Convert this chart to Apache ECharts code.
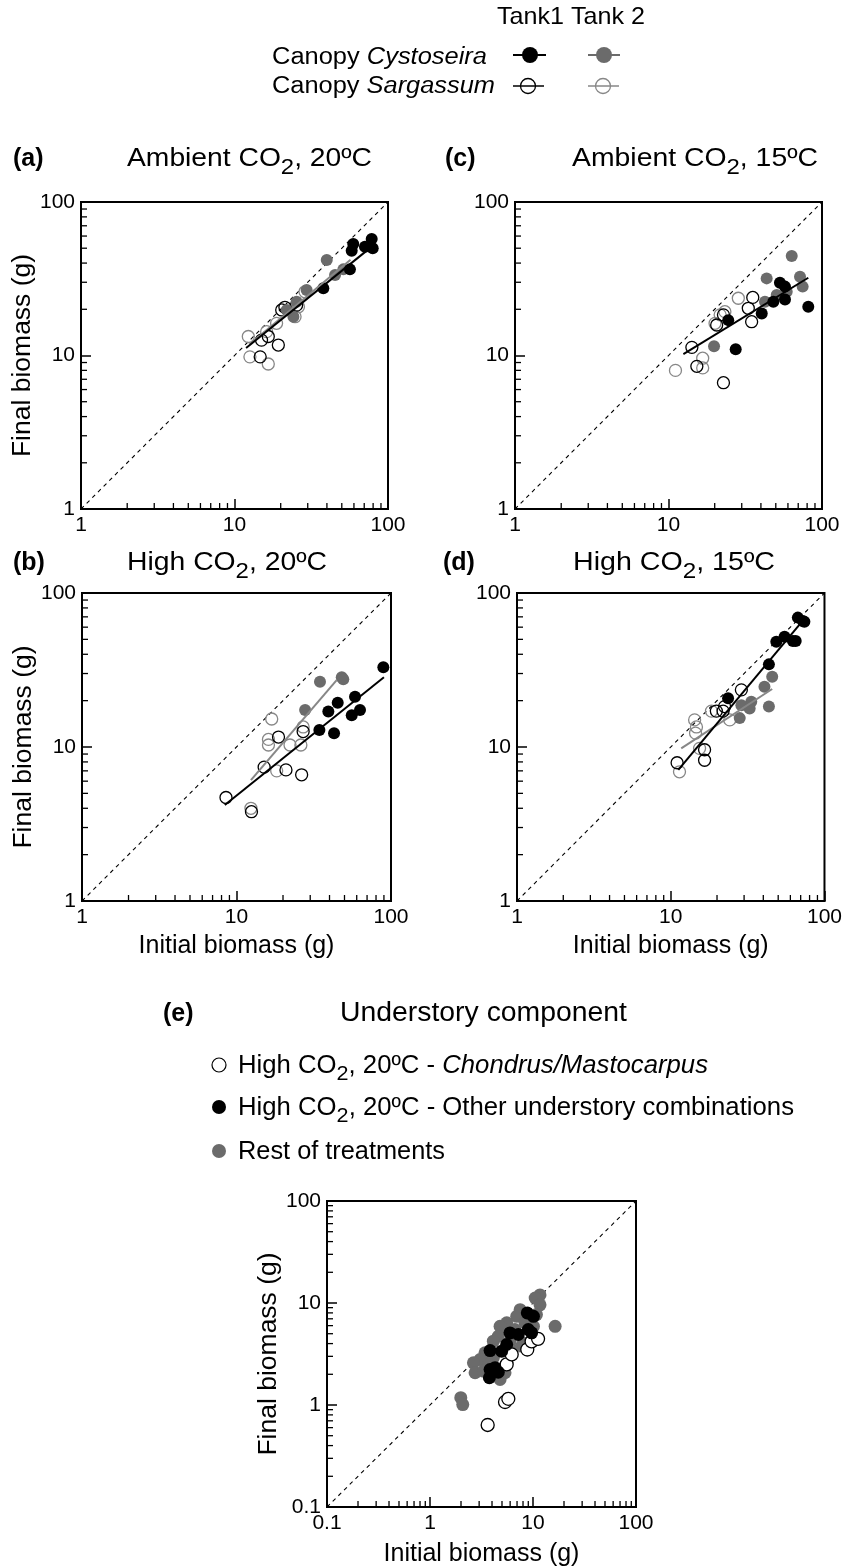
<!DOCTYPE html>
<html><head><meta charset="utf-8">
<script src="https://cdn.jsdelivr.net/npm/echarts@6.0.0/dist/echarts.min.js"></script>
<style>html,body{margin:0;padding:0;background:#fff}#c{width:845px;height:1568px}</style>
</head><body><div id="c"></div>
<script>
// ---------- data (initial g, final g) ----------
// (a) Ambient CO2, 20ºC
const aCysT1 = [[37.9,27.4],[56.5,36.4],[59.4,53.2],[58,48.2],[70.8,51.1],[78.3,57.4],[79.5,49.9]];
const aCysT2 = [[39.9,41.9],[45.2,33.4],[51.2,36.4],[29.5,26.7],[25.4,22.4],[24.2,17.9],[21.9,19.8]];
const aSarT1 = [[14.7,9.8],[15,12.6],[16.6,13.3],[19.3,11.7],[20.3,19.8],[21.3,20.6],[25.4,21.3]];
const aSarT2 = [[12.3,13.3],[12.6,9.8],[16.6,8.8],[18.8,16.2],[16.2,14.3],[24.8,17.9],[26.1,20.8],[28.8,26]];
const aFitT1 = [[11.9,11.2],[78,51]];
const aFitT2 = [[12.5,11.8],[57,42]];
// (c) Ambient CO2, 15ºC
const cCysT1 = [[53.2,29.8],[57.4,28.1],[57.4,23.2],[48.2,22.4],[40.5,18.8],[81.4,20.8],[27.4,11],[24.5,17]];
const cCysT2 = [[63.5,44.5],[43.6,31.8],[71.9,32.6],[74.8,28.1],[50.7,24.8],[58.9,26],[42.5,22.4],[19.8,11.5]];
const cSarT1 = [[35.4,23.9],[33.1,20.3],[34.8,16.6],[14.2,11.3],[15.3,8.5],[22.8,6.65],[20.6,15.8],[22.8,18.4]];
const cSarT2 = [[28.5,23.6],[23.3,19.3],[21.7,18.4],[20.1,16.2],[16.7,9.6],[16.7,8.3],[11.1,8]];
const cFitT1 = [[12.5,10.2],[81.4,32.1]];
// (b) High CO2, 20ºC
const bCysT1 = [[89.2,32.9],[58.5,21.2],[63,17.4],[55.7,16.1],[45.2,19.4],[39.3,17],[42.8,12.3],[34.4,12.9]];
const bCysT2 = [[34.7,26.5],[48,28.4],[49.1,27.5],[27.8,17.4]];
const bSarT1 = [[18.7,11.6],[27,12.6],[15.1,7.4],[20.9,7.1],[26.4,6.6],[8.55,4.7],[12.5,3.8]];
const bSarT2 = [[16.9,15.2],[16.1,11.2],[16.1,10.3],[22.2,10.3],[26.1,10.3],[18.2,7],[27,13.5],[12.4,4]];
const bFitT1 = [[8.4,4.2],[90,28.4]];
const bFitT2 = [[12.4,6.1],[44.5,27.2]];
// (d) High CO2, 15ºC
const dCysT1 = [[67.1,69.2],[72.3,65.8],[74,65],[48.6,48.3],[55,52],[62.3,48.8],[65,48.8],[43.5,34.4],[23.6,20.7]];
const dCysT2 = [[45.7,28.6],[40.7,24.6],[43.5,18.3],[33.4,19.7],[28.8,18.7],[32.6,17.8],[28.1,15.4]];
const dSarT1 = [[11,7.9],[16.6,9.6],[16.6,8.2],[28.8,23.5],[22.4,18.3],[19.8,17.1],[21.9,17.1]];
const dSarT2 = [[14.3,15],[14.7,13.5],[14.5,12.3],[11.4,6.9],[18.4,17.1],[15.4,9.8],[24.2,15]];
const dFitT1 = [[11.2,7.1],[76,70.2]];
const dFitT2 = [[11.7,9.8],[45.7,23.8]];
// (e) Understory component
const eChondrus = [[3.63,0.637],[5.35,1.07],[5.76,1.15],[5.55,2.5],[6.21,3.13],[8.8,3.5],[9.7,4.2],[11.2,4.45]];
const eOther = [[3.83,3.42],[3.83,2.23],[3.77,1.85],[4.28,2.32],[4.6,2.1],[4.96,3.37],[5.55,3.92],[5.98,5.09],[7.2,4.91],[8.8,8],[10.1,7.4],[9.0,5.5],[9.7,5.1]];
const eRest = [[1.99,1.18],[2.08,1.01],[16.4,5.9],[11.7,12],[10.5,11.2],[11.7,9.6],[7.5,8.6],[6.95,7.4],[5.56,6.4],[4.79,5.9],[4.6,4.72],[4.12,4.22],[3.42,3.25],[3.06,2.79],[2.64,2.59],[2.74,2.07],[3.3,2.15],[4.12,2.9],[4.79,1.78],[5.35,2.07],[8.07,4.06],[5.98,4.22],[8.36,6.4],[10.8,7.7],[10.1,5.9],[6.68,5.5],[3.72,2.5],[7.76,3.78],[6.21,3.5]];
// axes / ticks / texts
const axisMinTop = 1, axisMinE = 0.1, axisMax = 100;
const minorTicksTop = [2,3,4,5,6,7,8,9,20,30,40,50,60,70,80,90];
const minorTicksE = [0.2,0.3,0.4,0.5,0.6,0.7,0.8,0.9,2,3,4,5,6,7,8,9,20,30,40,50,60,70,80,90];
const panelLetters = ['(a)','(c)','(b)','(d)','(e)'];
const panelTitleParts = [['Ambient CO','2',', 20ºC'],['Ambient CO','2',', 15ºC'],['High CO','2',', 20ºC'],['High CO','2',', 15ºC']];
const axisNameX = 'Initial biomass (g)', axisNameY = 'Final biomass (g)';

// ---------- styles ----------
const FONT = '"Liberation Sans", Arial, Helvetica, sans-serif';
const BLACK = '#000', GRAY = '#6b6b6b', LGRAY = '#878787';
const styles = {
  fillBlack: {color: BLACK, borderColor: BLACK, borderWidth: 0},
  fillGray: {color: GRAY, borderColor: GRAY, borderWidth: 0},
  openBlack: {color: 'rgba(255,255,255,0)', borderColor: BLACK, borderWidth: 1.3},
  openGray: {color: 'rgba(255,255,255,0)', borderColor: LGRAY, borderWidth: 1.3},
  openWhite: {color: '#fff', borderColor: BLACK, borderWidth: 1.3}
};

const grids = [
  {left: 81, top: 202, width: 307, height: 307},
  {left: 515, top: 202, width: 307, height: 307},
  {left: 82, top: 593, width: 309, height: 308},
  {left: 517, top: 593, width: 308, height: 308},
  {left: 327, top: 1201, width: 309, height: 307}
].map(g => Object.assign({show: true, borderColor: BLACK, borderWidth: 2, backgroundColor: 'rgba(0,0,0,0)'}, g));

function mkAxis(gi, min, name, gap, nameSize) {
  const a = {
    type: 'log', logBase: 10, min: min, max: axisMax, gridIndex: gi,
    axisLine: {show: true, lineStyle: {color: BLACK, width: 2}},
    axisTick: {show: true, inside: true, length: 10, lineStyle: {color: BLACK, width: 1.5}},
    minorTick: {show: false},
    axisLabel: {fontSize: 21, color: BLACK, fontFamily: FONT, margin: 6},
    splitLine: {show: false}
  };
  if (name) {
    a.name = name; a.nameLocation = 'middle'; a.nameGap = gap;
    a.nameTextStyle = {fontSize: nameSize, color: BLACK, fontFamily: FONT};
  }
  return a;
}
const xAxes = [
  mkAxis(0, axisMinTop), mkAxis(1, axisMinTop),
  mkAxis(2, axisMinTop, axisNameX, 33, 25), mkAxis(3, axisMinTop, axisNameX, 33, 25),
  mkAxis(4, axisMinE, axisNameX, 35, 25)
];
const yAxes = [
  mkAxis(0, axisMinTop, axisNameY, 43, 26.5), mkAxis(1, axisMinTop),
  mkAxis(2, axisMinTop, axisNameY, 43, 26.5), mkAxis(3, axisMinTop),
  mkAxis(4, axisMinE, axisNameY, 42, 26.5)
];

const series = [];
function sc(gi, data, kind, size) {
  series.push({type: 'scatter', xAxisIndex: gi, yAxisIndex: gi, data: data, symbol: 'circle',
    symbolSize: size || 12, itemStyle: Object.assign({opacity: 1}, styles[kind]), z: 3, silent: true});
}
function fit(gi, data, color) {
  series.push({type: 'line', xAxisIndex: gi, yAxisIndex: gi, data: data, symbol: 'none',
    lineStyle: {color: color, width: 2}, z: 4, silent: true});
}
function diag(gi, lo) {
  series.push({type: 'line', xAxisIndex: gi, yAxisIndex: gi, data: [[lo, lo], [axisMax, axisMax]], symbol: 'none',
    lineStyle: {color: BLACK, width: 1.1, type: [4, 4]}, z: 2, silent: true});
}
function minorTicks(gi, vals, lo) {
  const mk = (dir) => ({
    type: 'custom', xAxisIndex: gi, yAxisIndex: gi, silent: true, z: 5,
    data: vals.map(v => dir === 'x' ? [v, lo] : [lo, v]),
    renderItem: (params, api) => {
      const p = api.coord([api.value(0), api.value(1)]);
      return {type: 'line',
        shape: dir === 'x' ? {x1: p[0], y1: p[1], x2: p[0], y2: p[1] - 6} : {x1: p[0], y1: p[1], x2: p[0] + 6, y2: p[1]},
        style: {stroke: BLACK, lineWidth: 1.3}};
    }
  });
  series.push(mk('x'), mk('y'));
}

const panels = [
  [aCysT1, aCysT2, aSarT1, aSarT2, [[aFitT2, LGRAY], [aFitT1, BLACK]]],
  [cCysT1, cCysT2, cSarT1, cSarT2, [[cFitT1, BLACK]]],
  [bCysT1, bCysT2, bSarT1, bSarT2, [[bFitT2, LGRAY], [bFitT1, BLACK]]],
  [dCysT1, dCysT2, dSarT1, dSarT2, [[dFitT2, LGRAY], [dFitT1, BLACK]]]
];
panels.forEach((p, gi) => {
  diag(gi, axisMinTop);
  minorTicks(gi, minorTicksTop, axisMinTop);
  sc(gi, p[3], 'openGray');
  sc(gi, p[2], 'openBlack');
  sc(gi, p[1], 'fillGray');
  sc(gi, p[0], 'fillBlack');
  p[4].forEach(f => fit(gi, f[0], f[1]));
});
diag(4, axisMinE);
minorTicks(4, minorTicksE, axisMinE);
sc(4, eRest, 'fillGray', 13);
sc(4, eChondrus, 'openWhite', 13);
sc(4, eOther, 'fillBlack', 13);

// ---------- text lines (graphic) with sub-scripts, widths measured ----------
const mctx = document.createElement('canvas').getContext('2d');
function tw(t, size, italic, bold) {
  mctx.font = (italic ? 'italic ' : 'normal ') + (bold ? 'bold ' : 'normal ') + size + 'px "Liberation Sans"';
  return mctx.measureText(t).width;
}
function textLine(x0, baseline, parts, targetW) {
  const widths = parts.map(p => tw(p.t, p.size, p.italic, p.bold));
  const W = widths.reduce((a, b) => a + b, 0);
  const k = targetW ? targetW / W : 1;
  let x = x0;
  return parts.map((p, i) => {
    const el = {type: 'text', x: x, y: baseline + (p.dy || 0) - 0.32 * p.size, scaleX: k, silent: true,
      style: {text: p.t, fontSize: p.size, fontFamily: FONT, fontStyle: p.italic ? 'italic' : 'normal',
        fontWeight: p.bold ? 'bold' : 'normal', fill: BLACK, align: 'left', verticalAlign: 'middle'}};
    x += widths[i] * k;
    return el;
  });
}
function titleParts(tp, main, sub, dy) {
  return [{t: tp[0], size: main}, {t: tp[1], size: sub, dy: dy}, {t: tp[2], size: main}];
}

let graphic = [];
// panel letters & titles: [letterX, titleX, titleRight, baseline]
const titleLayout = [[13, 127, 372, 167], [445, 572, 818, 167], [13, 127, 327, 571], [443, 573, 775, 571]];
titleLayout.forEach((L, i) => {
  graphic = graphic.concat(textLine(L[0], L[3], [{t: panelLetters[i], size: 25, bold: true}]));
  graphic = graphic.concat(textLine(L[1], L[3], titleParts(panelTitleParts[i], 26, 22, 8), L[2] - L[1]));
});
graphic = graphic.concat(textLine(163, 1022, [{t: panelLetters[4], size: 25, bold: true}]));
graphic = graphic.concat(textLine(340, 1022, [{t: 'Understory component', size: 27}], 287));

// top legend
graphic = graphic.concat(textLine(497, 25, [{t: 'Tank1 Tank 2', size: 24}], 148));
graphic = graphic.concat(textLine(272, 65, [{t: 'Canopy ', size: 23}, {t: 'Cystoseira', size: 23, italic: true}], 215));
graphic = graphic.concat(textLine(272, 94, [{t: 'Canopy ', size: 23}, {t: 'Sargassum', size: 23, italic: true}], 223));
graphic.push(
  {type: 'line', shape: {x1: 513, y1: 55, x2: 546, y2: 55}, style: {stroke: BLACK, lineWidth: 2}},
  {type: 'circle', shape: {cx: 530, cy: 55, r: 8}, style: {fill: BLACK}},
  {type: 'line', shape: {x1: 588, y1: 55, x2: 620, y2: 55}, style: {stroke: GRAY, lineWidth: 2}},
  {type: 'circle', shape: {cx: 604, cy: 55, r: 8}, style: {fill: GRAY}},
  {type: 'line', shape: {x1: 513, y1: 86, x2: 544, y2: 86}, style: {stroke: BLACK, lineWidth: 1.5}},
  {type: 'circle', shape: {cx: 528, cy: 86, r: 7.5}, style: {fill: 'none', stroke: BLACK, lineWidth: 1.3}},
  {type: 'line', shape: {x1: 588, y1: 86, x2: 619, y2: 86}, style: {stroke: LGRAY, lineWidth: 1.5}},
  {type: 'circle', shape: {cx: 603, cy: 86, r: 7.5}, style: {fill: 'none', stroke: LGRAY, lineWidth: 1.3}}
);

// (e) legend
graphic.push(
  {type: 'circle', shape: {cx: 219, cy: 1065, r: 7}, style: {fill: '#fff', stroke: BLACK, lineWidth: 1.2}},
  {type: 'circle', shape: {cx: 219, cy: 1107, r: 7}, style: {fill: BLACK}},
  {type: 'circle', shape: {cx: 219, cy: 1151, r: 7}, style: {fill: GRAY}}
);
graphic = graphic.concat(textLine(238, 1074, [{t: 'High CO', size: 25}, {t: '2', size: 21, dy: 7}, {t: ', 20ºC - ', size: 25}, {t: 'Chondrus/Mastocarpus', size: 25, italic: true}], 470));
graphic = graphic.concat(textLine(238, 1116, [{t: 'High CO', size: 25}, {t: '2', size: 21, dy: 7}, {t: ', 20ºC - Other understory combinations', size: 25}], 556));
graphic = graphic.concat(textLine(238, 1160, [{t: 'Rest of treatments', size: 25}], 207));

const chart = echarts.init(document.getElementById('c'), null, {renderer: 'canvas'});
chart.setOption({
  animation: false,
  backgroundColor: '#fff',
  grid: grids,
  xAxis: xAxes,
  yAxis: yAxes,
  series: series,
  graphic: graphic
});
</script></body></html>
